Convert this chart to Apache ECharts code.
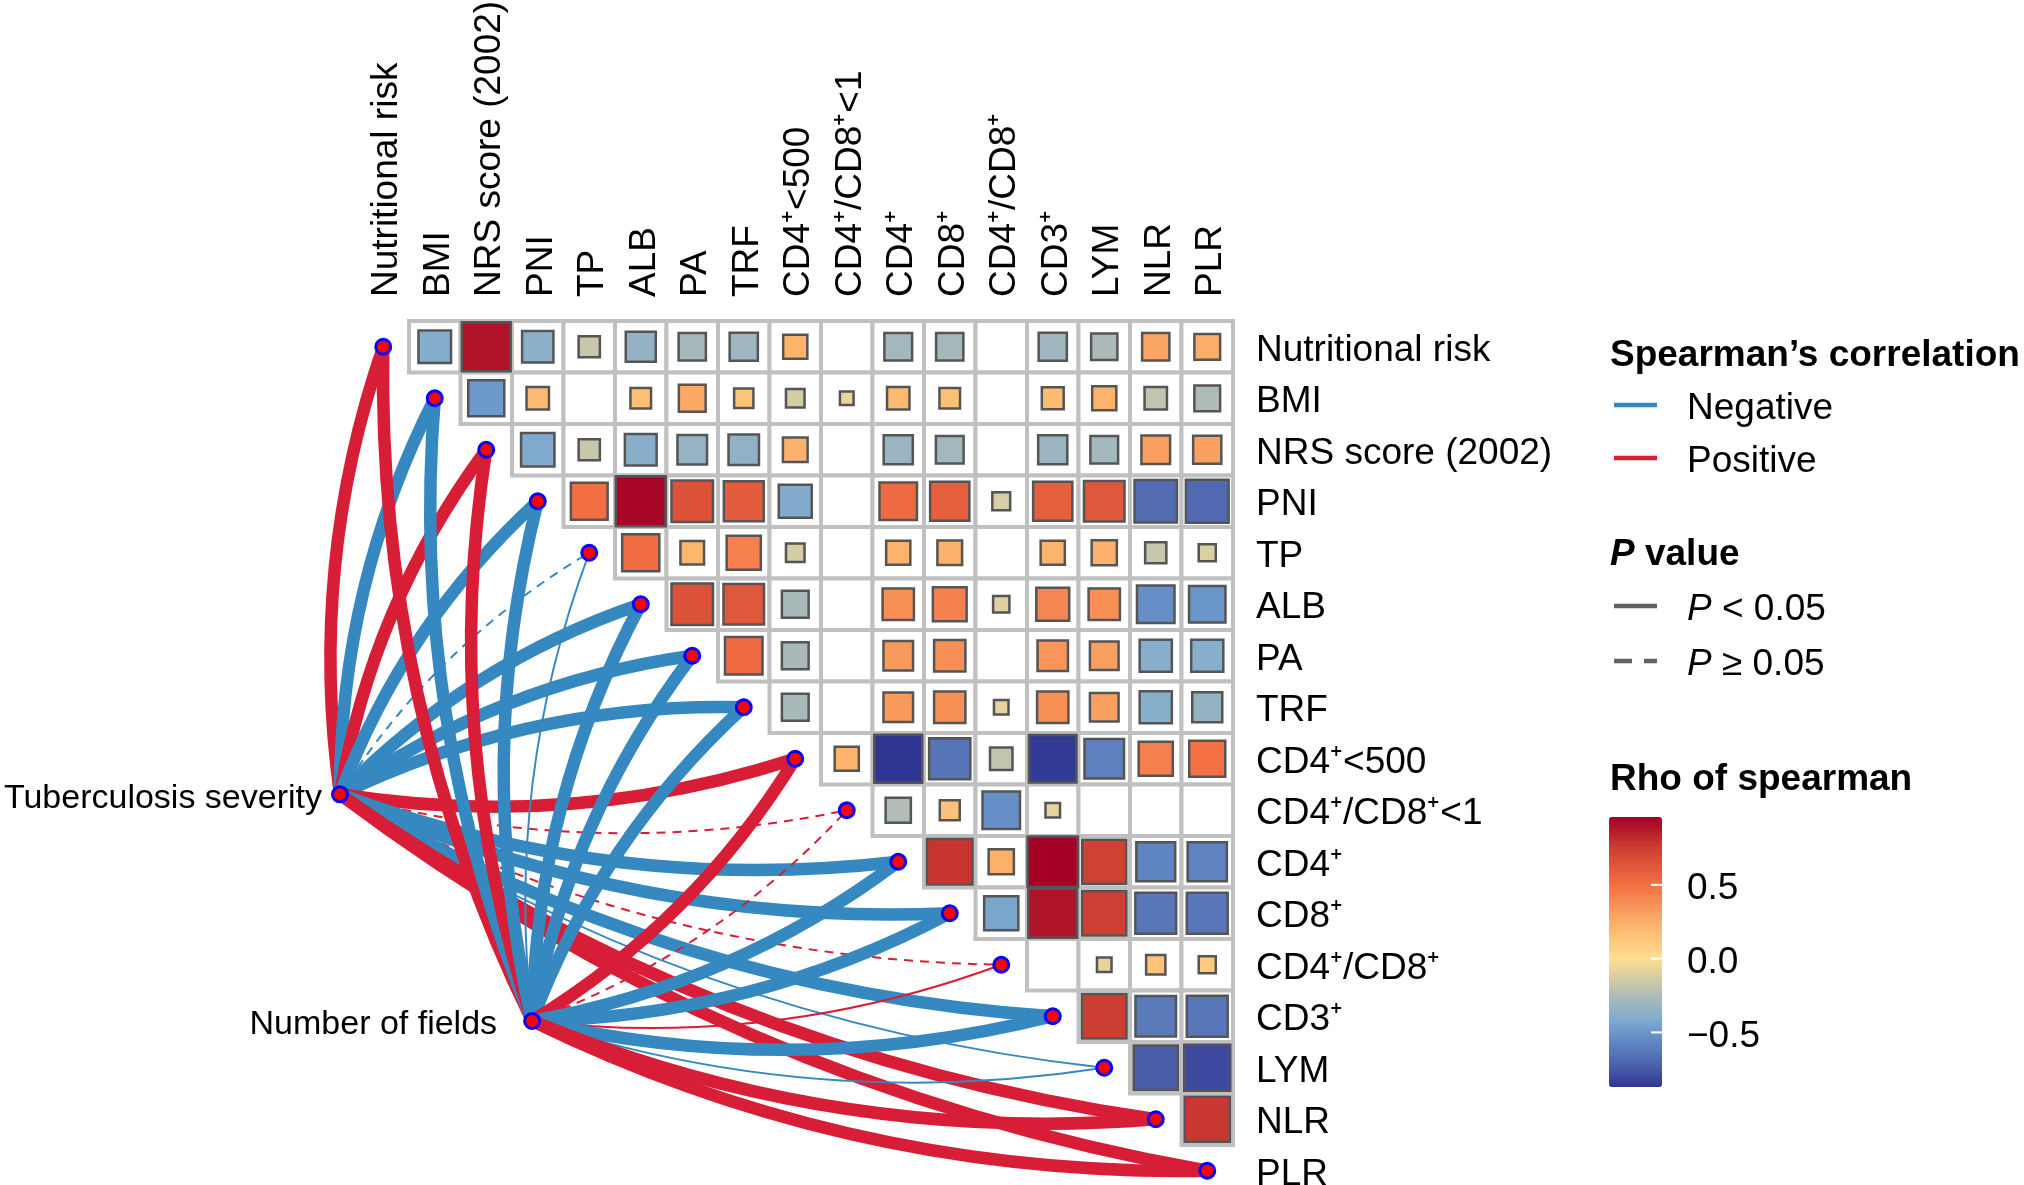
<!DOCTYPE html>
<html>
<head>
<meta charset="utf-8">
<script src="https://cdn.jsdelivr.net/npm/echarts@6/dist/echarts.min.js"></script>
<style>
html,body{margin:0;padding:0;background:#ffffff;}
#c{width:2024px;height:1185px;}
</style>
</head>
<body>
<div id="c"></div>
<script>
// ---------------- DATA ----------------
const VARS = ['Nutritional risk','BMI','NRS score (2002)','PNI','TP','ALB','PA','TRF',
  'CD4⁺<500','CD4⁺/CD8⁺<1','CD4⁺','CD8⁺','CD4⁺/CD8⁺','CD3⁺','LYM','NLR','PLR'];

// Spearman rho; each row lists the columns to the right of the diagonal (null = blank cell)
const rhoNutritionalRisk = [-0.40, 0.90, -0.37, -0.17, -0.34, -0.28, -0.30, 0.22, null, -0.29, -0.28, null, -0.30, -0.26, 0.28, 0.25];
const rhoBMI       = [-0.49, 0.19, null, 0.16, 0.27, 0.14, -0.13, -0.07, 0.19, 0.16, null, 0.18, 0.22, -0.19, -0.25];
const rhoNRS       = [-0.42, -0.17, -0.38, -0.33, -0.35, 0.23, null, -0.32, -0.29, null, -0.32, -0.29, 0.31, 0.30];
const rhoPNI       = [0.51, 0.94, 0.65, 0.60, -0.41, null, 0.53, 0.58, -0.12, 0.58, 0.62, -0.68, -0.69];
const rhoTP        = [0.52, 0.21, 0.44, -0.13, null, 0.22, 0.23, null, 0.22, 0.24, -0.17, -0.11];
const rhoALB       = [0.65, 0.62, -0.27, null, 0.37, 0.43, -0.10, 0.41, 0.37, -0.53, -0.50];
const rhoPA        = [0.53, -0.27, null, 0.33, 0.37, null, 0.35, 0.31, -0.39, -0.39];
const rhoTRF       = [-0.27, null, 0.33, 0.37, -0.08, 0.37, 0.31, -0.39, -0.34];
const rhoCD4lt500  = [0.22, -0.87, -0.64, -0.19, -0.85, -0.59, 0.44, 0.49];
const rhoCD4CD8lt1 = [-0.24, 0.15, -0.53, -0.08, null, null, null];
const rhoCD4       = [0.78, 0.24, 0.96, 0.73, -0.57, -0.58];
const rhoCD8       = [-0.44, 0.90, 0.74, -0.63, -0.63];
const rhoCD4CD8    = [null, -0.08, 0.14, 0.11];
const rhoCD3       = [0.75, -0.62, -0.63];
const rhoLYM       = [-0.74, -0.80];
const rhoNLR       = [0.77];
const RHO_ROWS = [rhoNutritionalRisk, rhoBMI, rhoNRS, rhoPNI, rhoTP, rhoALB, rhoPA, rhoTRF,
  rhoCD4lt500, rhoCD4CD8lt1, rhoCD4, rhoCD8, rhoCD4CD8, rhoCD3, rhoLYM, rhoNLR];

// Links from the two outcome variables (estimated rho, significance P<0.05)
const ENV = ['Tuberculosis severity', 'Number of fields'];
const tsRho = [0.32, -0.35, 0.34, -0.38, -0.08, -0.36, -0.33, -0.30, 0.28, 0.06, -0.33, -0.30, 0.05, -0.32, -0.15, 0.30, 0.29];
const tsSig = [true, true, true, true, false, true, true, true, true, false, true, true, false, true, true, true, true];
const nfRho = [0.30, -0.33, 0.31, -0.36, -0.14, -0.34, -0.31, -0.29, 0.27, 0.07, -0.31, -0.28, 0.13, -0.30, -0.16, 0.28, 0.27];
const nfSig = [true, true, true, true, true, true, true, true, true, false, true, true, true, true, true, true, true];
// anchor positions of the two outcome nodes, in cell units of the matrix
const ENV_POS = [[-0.34, 9.19], [3.39, 13.59]];

const TICKS = [0.5, 0.0, -0.5];
const TICK_LABELS = ['0.5', '0.0', '\u22120.5'];

// ---------------- STYLE / LAYOUT ----------------
const W = 2024, H = 1185;
const CELL = 51.5, OX = 357.5, OY = 321;
const FONT = "'Liberation Sans', Arial, Helvetica, sans-serif";
const BLUE = '#3589C0', RED = '#D81E36', GRAY = '#626262';
const CURVE = 0.12;
const DY = 4; // small downward nudge of text baselines
const COLOR_STOPS = [[-0.87,'#2E3592'],[-0.74,'#4A5DA9'],[-0.5,'#6A96CB'],[-0.4,'#84AECD'],[-0.28,'#A5B7BC'],
  [0,'#FEE090'],[0.25,'#FCAE68'],[0.5,'#F37044'],[0.75,'#CC3E32'],[0.96,'#A50026']];

function hex2rgb(h){return [parseInt(h.substr(1,2),16),parseInt(h.substr(3,2),16),parseInt(h.substr(5,2),16)];}
function colorAt(v){
  if (v <= COLOR_STOPS[0][0]) return COLOR_STOPS[0][1];
  for (let k = 1; k < COLOR_STOPS.length; k++) {
    if (v <= COLOR_STOPS[k][0]) {
      const a = COLOR_STOPS[k-1], b = COLOR_STOPS[k];
      const t = (v - a[0]) / (b[0] - a[0]);
      const ca = hex2rgb(a[1]), cb = hex2rgb(b[1]);
      return 'rgb(' + ca.map((x,i)=>Math.round(x + (cb[i]-x)*t)).join(',') + ')';
    }
  }
  return COLOR_STOPS[COLOR_STOPS.length-1][1];
}

// ---------------- BUILD ----------------
const bgCells = [], valueCells = [];
RHO_ROWS.forEach((row, i) => {
  row.forEach((v, k) => {
    const j = i + 1 + k;
    bgCells.push([j, i]);
    if (v !== null) valueCells.push([j, i, v]);
  });
});
const allVals = valueCells.map(d => d[2]);
const RHO_MIN = Math.min(...allVals), RHO_MAX = Math.max(...allVals);
const mapColors = [];
for (let k = 0; k <= 80; k++) mapColors.push(colorAt(RHO_MIN + (RHO_MAX - RHO_MIN) * k / 80));

const mid = Math.floor(VARS.length / 2);
const links = [];
[[tsRho, tsSig], [nfRho, nfSig]].forEach((pair, e) => {
  const rho = pair[0], sig = pair[1];
  VARS.forEach((name, i) => {
    links.push({
      coords: [ENV_POS[e], [i + 0.5, i + 0.5]],
      lineStyle: {
        color: rho[i] < 0 ? BLUE : RED,
        width: Math.abs(rho[i]) >= 0.2 ? 12.5 : 2,
        type: sig[i] ? 'solid' : [9, 7],
        opacity: 1,
        curveness: i < mid ? CURVE : -CURVE
      }
    });
  });
});
const varNodes = VARS.map((n, i) => ({name: n, value: [i + 0.5, i + 0.5]}));
const envNodes = ENV.map((n, e) => ({
  name: n, value: ENV_POS[e],
  label: {show: true, position: 'left', distance: e === 0 ? 9 : 26, formatter: '{b}', offset: [0, DY],
    fontSize: 34, color: '#000', fontFamily: FONT}
}));
const colLabels = VARS.map((n, j) => [j + 0.5, -24 / CELL, n]);
const rowLabels = VARS.map((n, i) => [NV_EDGE(), i + 0.5, n]);
function NV_EDGE(){ return VARS.length + 23 / CELL; }

const XMIN = -OX / CELL, XMAX = (W - OX) / CELL;
const YMIN = -OY / CELL, YMAX = (H - OY) / CELL;

const barTop = 817, barH = 270, barX = 1609, barW = 53;
function barY(v){ return barTop + (RHO_MAX - v) / (RHO_MAX - RHO_MIN) * barH; }

const LEG_X = 1610, LX0 = 1614, LX1 = 1657, TX = 1687;
function gText(t, x, y, opts) {
  return Object.assign({type:'text', x: x, y: y + DY, z: 100,
    style: Object.assign({text: t, fill: '#000', font: '37px ' + FONT,
      align: 'left', verticalAlign: 'middle', textAlign: 'left', textVerticalAlign: 'middle'}, opts || {})});
}
function gLine(x0, x1, y, color, dash, w) {
  return {type:'line', z: 100, shape:{x1:x0, y1:y, x2:x1, y2:y},
    style:{stroke: color, lineWidth: w || 4.5, lineDash: dash || null}};
}
const graphics = [
  gText('Spearman\u2019s correlation', LEG_X, 352, {font: 'bold 37px ' + FONT}),
  gLine(LX0, LX1, 405, BLUE), gText('Negative', TX, 405),
  gLine(LX0, LX1, 458, RED), gText('Positive', TX, 458),
  gText('{bi|P}{b| value}', LEG_X, 551, {rich: {
    bi: {fontStyle: 'italic', fontWeight: 'bold', fontSize: 37, fontFamily: FONT, fill: '#000'},
    b: {fontWeight: 'bold', fontSize: 37, fontFamily: FONT, fill: '#000'}}}),
  gLine(LX0, LX1, 606, GRAY), gText('{i|P}{n| < 0.05}', TX, 606, {rich: {
    i: {fontStyle: 'italic', fontSize: 37, fontFamily: FONT, fill: '#000'},
    n: {fontSize: 37, fontFamily: FONT, fill: '#000'}}}),
  gLine(LX0, LX1, 661, GRAY, [18, 12]), gText('{i|P}{n| \u2265 0.05}', TX, 661, {rich: {
    i: {fontStyle: 'italic', fontSize: 37, fontFamily: FONT, fill: '#000'},
    n: {fontSize: 37, fontFamily: FONT, fill: '#000'}}}),
  gText('Rho of spearman', LEG_X, 776, {font: 'bold 37px ' + FONT})
];
TICKS.forEach((v, k) => {
  const y = barY(v);
  graphics.push({type:'line', z: 100, shape:{x1: barX + barW - 11, y1: y, x2: barX + barW, y2: y},
    style:{stroke:'#ffffff', lineWidth: 2}});
  graphics.push(gText(TICK_LABELS[k], TX, y));
});

const option = {
  animation: false,
  backgroundColor: '#ffffff',
  grid: [
    {left: 0, top: 0, width: W, height: H, containLabel: false, outerBoundsMode: 'none'}
  ],
  xAxis: [
    {gridIndex: 0, type: 'value', min: XMIN, max: XMAX, show: false}
  ],
  yAxis: [
    {gridIndex: 0, type: 'value', inverse: true, min: YMIN, max: YMAX, show: false}
  ],
  visualMap: {
    type: 'continuous', min: RHO_MIN, max: RHO_MAX, dimension: 2, seriesIndex: 1,
    inRange: {color: mapColors}, left: barX, top: barTop, itemWidth: barW, itemHeight: barH,
    calculable: false, padding: 0, orient: 'vertical', text: null, hoverLink: false
  },
  series: [
    {
      type: 'custom', xAxisIndex: 0, yAxisIndex: 0, data: bgCells, encode: {x: 0, y: 1}, z: 1, silent: true,
      renderItem: function (params, api) {
        const j = api.value(0), i = api.value(1);
        const p0 = api.coord([j, i]), p1 = api.coord([j + 1, i + 1]);
        return {type: 'rect', shape: {x: Math.min(p0[0], p1[0]), y: Math.min(p0[1], p1[1]),
          width: Math.abs(p1[0] - p0[0]), height: Math.abs(p1[1] - p0[1])},
          style: {fill: '#ffffff', stroke: '#C0C0C0', lineWidth: 4}};
      }
    },
    {
      type: 'custom', xAxisIndex: 0, yAxisIndex: 0, data: valueCells, encode: {x: 0, y: 1}, z: 2, silent: true,
      renderItem: function (params, api) {
        const j = api.value(0), i = api.value(1), v = api.value(2);
        const c = api.coord([j + 0.5, i + 0.5]);
        const sz = api.size([1, 1]);
        const s = Math.sqrt(Math.abs(v)) * Math.abs(sz[0]);
        return {type: 'rect', shape: {x: c[0] - s / 2, y: c[1] - s / 2, width: s, height: s},
          style: {fill: api.visual('color'), stroke: '#555555', lineWidth: 2.5}};
      }
    },
    {
      type: 'lines', coordinateSystem: 'cartesian2d', xAxisIndex: 0, yAxisIndex: 0, z: 3, silent: true,
      polyline: false, data: links, lineStyle: {opacity: 1}
    },
    {
      type: 'scatter', xAxisIndex: 0, yAxisIndex: 0, z: 4, silent: true, data: varNodes,
      symbol: 'circle', symbolSize: 15,
      itemStyle: {color: '#FF0000', borderColor: '#0000FF', borderWidth: 3, opacity: 1}
    },
    {
      type: 'scatter', xAxisIndex: 0, yAxisIndex: 0, z: 4, silent: true, data: envNodes,
      symbol: 'circle', symbolSize: 15,
      itemStyle: {color: '#FF0000', borderColor: '#0000FF', borderWidth: 3, opacity: 1}
    },
    {
      // column labels (vertical, reading bottom-to-top)
      type: 'custom', xAxisIndex: 0, yAxisIndex: 0, data: colLabels, encode: {x: 0, y: 1}, z: 5, silent: true,
      renderItem: function (params, api) {
        const p = api.coord([api.value(0), api.value(1)]);
        return {type: 'text', x: p[0] + DY, y: p[1], rotation: Math.PI / 2,
          style: {text: colLabels[params.dataIndex][2], font: '37px ' + FONT, fill: '#000',
            align: 'left', verticalAlign: 'middle'}};
      }
    },
    {
      // row labels (right of the matrix)
      type: 'custom', xAxisIndex: 0, yAxisIndex: 0, data: rowLabels, encode: {x: 0, y: 1}, z: 5, silent: true,
      renderItem: function (params, api) {
        const p = api.coord([api.value(0), api.value(1)]);
        return {type: 'text', x: p[0], y: p[1] + DY,
          style: {text: rowLabels[params.dataIndex][2], font: '37px ' + FONT, fill: '#000',
            align: 'left', verticalAlign: 'middle'}};
      }
    }
  ],
  graphic: graphics
};

const chart = echarts.init(document.getElementById('c'), null, {renderer: 'canvas', width: W, height: H});
chart.setOption(option);
</script>
</body>
</html>
